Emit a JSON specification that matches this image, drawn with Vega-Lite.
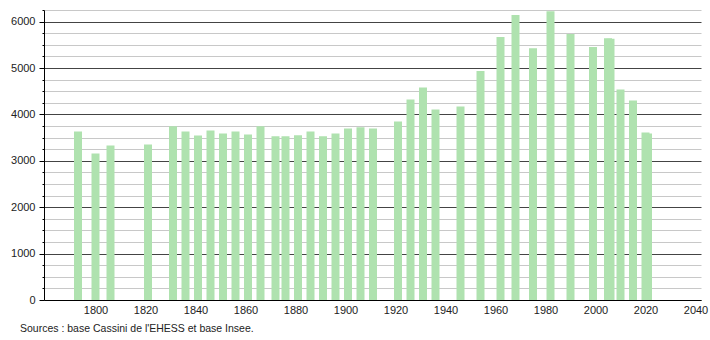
{
  "$schema": "https://vega.github.io/schema/vega-lite/v6.json",
  "autosize": "none",
  "width": 657,
  "height": 290,
  "padding": {"left": 44, "top": 10, "right": 9, "bottom": 40},
  "background": "white",
  "config": {"view": {"stroke": null}, "font": "Liberation Sans"},
  "title": {
    "text": "Sources : base Cassini de l'EHESS et base Insee.",
    "orient": "bottom",
    "anchor": "start",
    "frame": "group",
    "dx": -24,
    "offset": 9,
    "fontSize": 10.5,
    "fontWeight": "normal",
    "font": "Liberation Sans",
    "color": "#222"
  },
  "data": {
    "values": [
      {"annee": 1793, "population": 3630},
      {"annee": 1800, "population": 3155},
      {"annee": 1806, "population": 3328},
      {"annee": 1821, "population": 3349},
      {"annee": 1831, "population": 3745},
      {"annee": 1836, "population": 3630},
      {"annee": 1841, "population": 3544},
      {"annee": 1846, "population": 3652},
      {"annee": 1851, "population": 3587},
      {"annee": 1856, "population": 3630},
      {"annee": 1861, "population": 3565},
      {"annee": 1866, "population": 3745},
      {"annee": 1872, "population": 3529},
      {"annee": 1876, "population": 3529},
      {"annee": 1881, "population": 3551},
      {"annee": 1886, "population": 3630},
      {"annee": 1891, "population": 3529},
      {"annee": 1896, "population": 3587},
      {"annee": 1901, "population": 3695},
      {"annee": 1906, "population": 3724},
      {"annee": 1911, "population": 3695},
      {"annee": 1921, "population": 3846},
      {"annee": 1926, "population": 4322},
      {"annee": 1931, "population": 4581},
      {"annee": 1936, "population": 4105},
      {"annee": 1946, "population": 4170},
      {"annee": 1954, "population": 4934},
      {"annee": 1962, "population": 5668},
      {"annee": 1968, "population": 6144},
      {"annee": 1975, "population": 5424},
      {"annee": 1982, "population": 6223},
      {"annee": 1990, "population": 5733},
      {"annee": 1999, "population": 5452},
      {"annee": 2005, "population": 5640},
      {"annee": 2006, "population": 5630},
      {"annee": 2010, "population": 4538},
      {"annee": 2015, "population": 4300},
      {"annee": 2020, "population": 3610},
      {"annee": 2021, "population": 3590}
    ]
  },
  "mark": {"type": "bar", "size": 8, "color": "#afe2af"},
  "encoding": {
    "x": {
      "field": "annee",
      "type": "quantitative",
      "scale": {"domain": [1779.4, 2042.2], "nice": false, "zero": false, "padding": 0},
      "axis": {
        "title": null,
        "values": [1800, 1820, 1840, 1860, 1880, 1900, 1920, 1940, 1960, 1980, 2000, 2020, 2040],
        "format": "d",
        "grid": false,
        "ticks": false,
        "labelPadding": 4,
        "labelFontSize": 11,
        "labelColor": "#222",
        "domainColor": "#000",
        "domainWidth": 1
      }
    },
    "y": {
      "field": "population",
      "type": "quantitative",
      "scale": {"domain": [0, 6250], "nice": false, "padding": 0},
      "axis": {
        "title": null,
        "values": [0, 250, 500, 750, 1000, 1250, 1500, 1750, 2000, 2250, 2500, 2750, 3000, 3250, 3500, 3750, 4000, 4250, 4500, 4750, 5000, 5250, 5500, 5750, 6000, 6250],
        "format": "d",
        "labelExpr": "datum.value % 1000 === 0 ? datum.label : ''",
        "grid": true,
        "gridColor": {"condition": {"test": "datum.value % 1000 === 0", "value": "#444"}, "value": "#c8c8c8"},
        "gridWidth": 1,
        "tickColor": "#000",
        "tickSize": {"condition": {"test": "datum.value % 1000 === 0", "value": 5}, "value": 2},
        "labelPadding": 4,
        "labelFontSize": 11,
        "labelColor": "#222",
        "domainColor": "#000",
        "domainWidth": 1
      }
    }
  }
}
